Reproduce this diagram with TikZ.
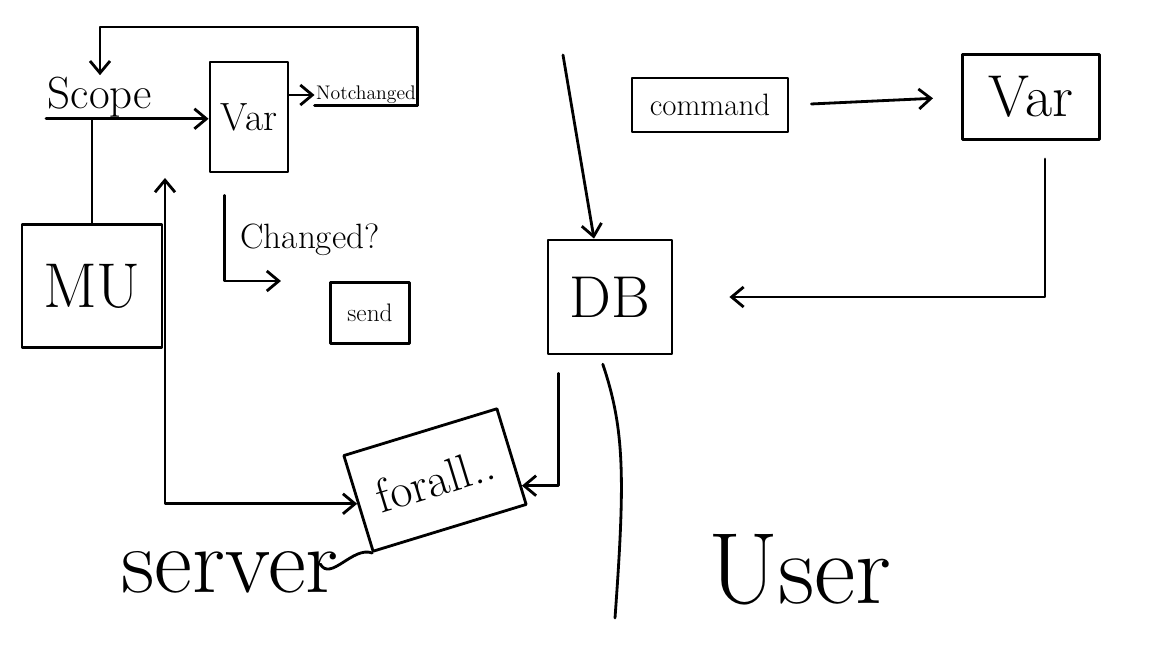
\documentclass[tikz,border=0pt]{standalone}
\usepackage{fontspec}
\usetikzlibrary{arrows.meta,calc}
\begin{document}
\begin{tikzpicture}[x=0.025cm,y=-0.025cm,
  ink/.style={line width=2pt,line cap=round,line join=round},
  tip/.tip={Straight Barb[length=3mm,width=5mm,line width=2pt]},
  arr/.style={ink,-tip},
  arrb/.style={ink,tip-tip},
  box/.style={draw,ink,inner sep=0pt,align=center},
  lbl/.style={inner sep=1pt}]
\useasboundingbox (0,0) rectangle (1152,648);

% nodes
\node[lbl,font=\fontsize{32}{32}\selectfont] (scope) at (100,97) {Scope};
\node[box,minimum width=1.95cm,minimum height=2.75cm,font=\fontsize{28}{28}\selectfont] (var1) at (249,117) {Var};
\node[lbl,font=\fontsize{14}{14}\selectfont] (notch) at (366,95) {Notchanged};
\node[box,minimum width=3.5cm,minimum height=3.08cm,font=\fontsize{45}{45}\selectfont] (mu) at (92,286) {MU};
\node[lbl,font=\fontsize{25}{25}\selectfont] (changed) at (310,240) {Changed?};
\node[box,minimum width=1.98cm,minimum height=1.53cm,font=\fontsize{18}{18}\selectfont] (send) at (370,313) {send};
\node[box,minimum width=3.1cm,minimum height=2.85cm,font=\fontsize{42}{42}\selectfont] (db) at (610,297) {DB};
\node[box,minimum width=3.9cm,minimum height=1.35cm,font=\fontsize{22}{22}\selectfont] (command) at (710,105) {command};
\node[box,minimum width=3.43cm,minimum height=2.13cm,font=\fontsize{42}{42}\selectfont] (var2) at (1031,97) {Var};
\node[box,rotate=17,minimum width=4cm,minimum height=2.5cm,font=\fontsize{34}{34}\selectfont] (forall) at (435,480) {forall..};
\node[lbl,font=\fontsize{66}{66}\selectfont] (server) at (230,572) {server};
\node[lbl,font=\fontsize{72}{72}\selectfont] (user) at (800,570) {User};

% free ends
\coordinate (top) at (0,27);
\coordinate (divtop) at (563,55);
\coordinate (divbot) at (615,618);
\coordinate (up) at (165,178);

% connectors
\draw[ink] (notch.south west) -- (notch.south east);
\draw[arr] (notch.south east) -- (notch.east |- top) -| (scope.north);
\draw[arr] (scope.south west) -- (var1.west |- scope.south);
\draw[ink] (mu.north) -- (mu.north |- scope.south);
\draw[arr] (var1.east |- notch.west) -- (notch.west);
\draw[arr,shorten >=1.2cm] ([xshift=0.4cm,yshift=-0.55cm]var1.south west) |- (send.north west);
\draw[arrb] (up) |- (forall.west);
\draw[arr] (divtop) -- ([xshift=-0.4cm]db.north);
\draw[ink] ([xshift=-0.18cm,yshift=-0.22cm]db.south) .. controls (625,430) and (625,480) .. (divbot);
\draw[arr] ([xshift=0.3cm,yshift=-0.45cm]db.south west) |- ($(forall.east)!0.6!(forall.south east)$);
\draw[arr,shorten <=0.55cm,shorten >=0.7cm] (command.east) -- (var2.west);
\draw[arr,shorten <=0.45cm,shorten >=1.4cm] ([xshift=0.35cm]var2.south) |- (db.east);
\draw[ink] ([xshift=-0.5cm,yshift=0.2cm]server.east) to[out=-60,in=160] (forall.south west);
\end{tikzpicture}
\end{document}
